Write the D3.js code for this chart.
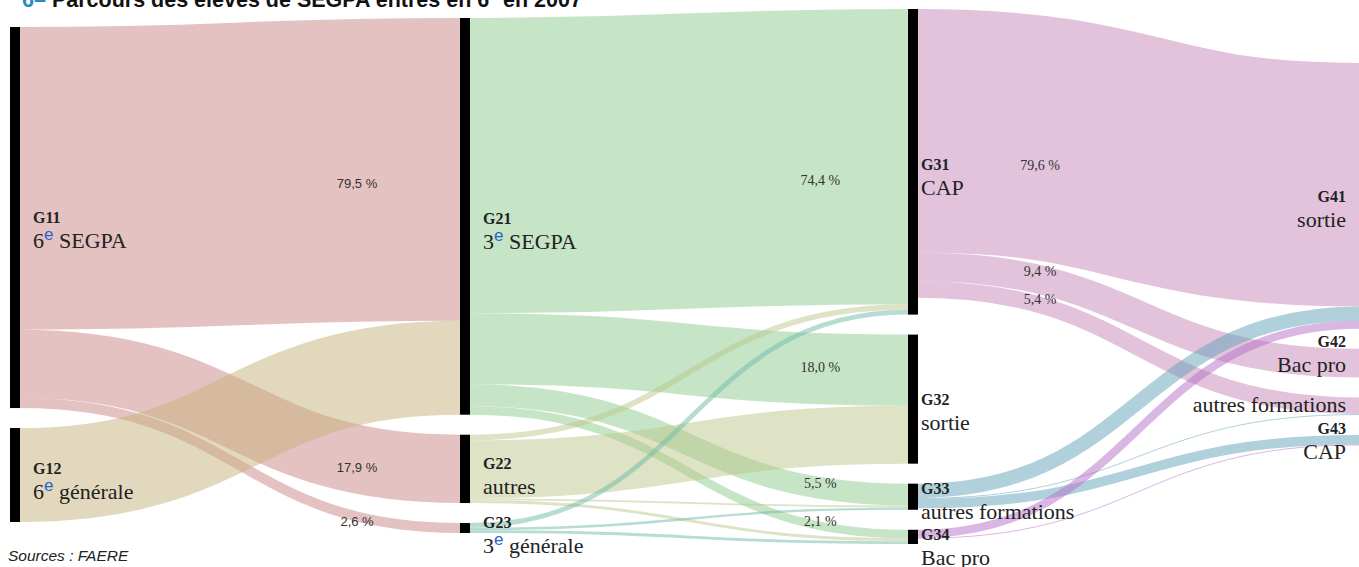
<!DOCTYPE html>
<html>
<head>
<meta charset="utf-8">
<script src="https://cdn.jsdelivr.net/npm/d3@7"></script>
<style>
  body { margin: 0; background: #fff; }
  svg { display: block; }
  .serif { font-family: "Liberation Serif", "Times New Roman", Tinos, "DejaVu Serif", "Noto Serif", serif; }
</style>
</head>
<body>
<div id="parcours"></div>
<script>
// Parcours des élèves de SEGPA - sankey drawn by hand with d3

// nodes
const nodeIds = ["G11", "G12", "G21", "G22", "G23", "G31", "G32", "G33", "G34", "G41", "G42", "G44", "G43"];
const nodeCodes = ["G11", "G12", "G21", "G22", "G23", "G31", "G32", "G33", "G34", "G41", "G42", "", "G43"];
const nodeNames = ["6^e SEGPA", "6^e générale", "3^e SEGPA", "autres", "3^e générale",
                   "CAP", "sortie", "autres formations", "Bac pro",
                   "sortie", "Bac pro", "autres formations", "CAP"];
const nodeColumn = [0, 0, 1, 1, 1, 2, 2, 2, 2, 3, 3, 3, 3];

// links (share of the whole cohort, in %)
const linkSource = ["G11", "G11", "G11", "G12",
                    "G21", "G21", "G21", "G21",
                    "G22", "G22", "G22", "G22",
                    "G23", "G23", "G23",
                    "G31", "G31", "G31",
                    "G33", "G33", "G33",
                    "G34", "G34"];
const linkTarget = ["G21", "G22", "G23", "G21",
                    "G31", "G32", "G33", "G34",
                    "G31", "G32", "G33", "G34",
                    "G31", "G33", "G34",
                    "G41", "G42", "G44",
                    "G41", "G44", "G43",
                    "G41", "G43"];
const linkValue = [63.8, 14.4, 2.1, 19.8,
                   62.2, 15.0, 4.6, 1.8,
                   1.2, 12.2, 0.4, 0.6,
                   1.0, 0.5, 0.6,
                   51.3, 6.05, 3.5,
                   3.0, 0.2, 2.0,
                   1.7, 0.2];
// percentage labels written on some links
const linkLabel = ["79,5 %", "17,9 %", "2,6 %", "",
                   "74,4 %", "18,0 %", "5,5 %", "2,1 %",
                   "", "", "", "",
                   "", "", "",
                   "79,6 %", "9,4 %", "5,4 %",
                   "", "", "",
                   "", ""];

// layout only: label nudges (px)
const labelNudge = [13, 8, 4, 0,
                    23, -2, -5, -5,
                    0, 0, 0, 0,
                    0, 0, 0,
                    27, -9, -6,
                    0, 0, 0,
                    0, 0];
const nodeLabelShift = [0, -7, 2, -5, -6, 3, 0, -8, -2, 1, -22, 0, -12];

const sourceColors = {
  G11: "#c98585", G12: "#c5b17d", G21: "#8dcb8d", G22: "#bbc789",
  G23: "#6eb9aa", G31: "#c787b7", G33: "#61a1b9", G34: "#b66ec6"
};

const width = 1359, height = 567;
const colX = [10, 460, 908, 1359];     // left edge of the node bars
const colTop = [27, 18, 9, 63];
const barW = 10, gap = 20;
const labelT = [0.766, 0.8, 0.277];    // where along a link its % sits
const sans = "'Liberation Sans', Arial, sans-serif";
const narrow = "'Liberation Sans Narrow', 'Arial Narrow', 'Liberation Sans', sans-serif";

const svg = d3.select("#parcours")
  .append("svg")
    .attr("width", width)
    .attr("height", height);

// build nodes and links
let nodes = nodeIds.map((id, i) => ({
  id: id, code: nodeCodes[i], name: nodeNames[i], col: nodeColumn[i],
  shift: nodeLabelShift[i], inLinks: [], outLinks: []
}));
let byId = new Map(nodes.map(n => [n.id, n]));
let links = linkValue.map((v, i) => ({
  source: byId.get(linkSource[i]), target: byId.get(linkTarget[i]),
  value: v, label: linkLabel[i], nudge: labelNudge[i]
}));
links.forEach(l => { l.source.outLinks.push(l); l.target.inLinks.push(l); });
nodes.forEach(n => {
  n.value = Math.max(d3.sum(n.inLinks, l => l.value), d3.sum(n.outLinks, l => l.value));
});

// one px-per-percent scale for every column, from the first column
const firstCol = nodes.filter(n => n.col == 0);
const y = d3.scaleLinear()
  .domain([0, d3.sum(firstCol, n => n.value)])
  .range([0, 522 - colTop[0] - gap * (firstCol.length - 1)]);

// stack the nodes of each column
d3.range(4).forEach(c => {
  let pos = colTop[c];
  nodes.filter(n => n.col == c).forEach(n => {
    n.y0 = pos;
    n.y1 = pos + y(n.value);
    n.x0 = colX[c];
    n.x1 = colX[c] + barW;
    pos = n.y1 + gap;
  });
});

// link band positions at both ends
const order = n => nodeIds.indexOf(n.id);
nodes.forEach(n => {
  let s = n.y0;
  n.outLinks.sort((a, b) => order(a.target) - order(b.target)).forEach(l => {
    l.w = y(l.value); l.sy = s + l.w / 2; s += l.w;
  });
  let t = n.y0;
  n.inLinks.sort((a, b) => order(a.source) - order(b.source)).forEach(l => {
    l.ty = t + y(l.value) / 2; t += y(l.value);
  });
});

const linkPath = d3.linkHorizontal()
  .source(l => [l.source.x1, l.sy])
  .target(l => [l.target.x0, l.ty]);

svg.append("g")
  .attr("fill", "none")
  .selectAll("path")
  .data(links)
  .join("path")
    .attr("d", linkPath)
    .attr("stroke", l => sourceColors[l.source.id])
    .attr("stroke-opacity", 0.5)
    .attr("stroke-width", l => Math.max(1, l.w));

// node bars
svg.append("g")
  .selectAll("rect")
  .data(nodes.filter(n => n.col < 3))
  .join("rect")
    .attr("x", n => n.x0)
    .attr("y", n => n.y0)
    .attr("width", barW)
    .attr("height", n => n.y1 - n.y0)
    .attr("fill", "#000");

// position along a horizontal link bezier for a given x fraction
function bandY(l, t) {
  let x0 = l.source.x1, x1 = l.target.x0;
  let X = x0 + t * (x1 - x0);
  let lo = 0, hi = 1;
  for (let k = 0; k < 40; k++) {
    let s = (lo + hi) / 2;
    let xs = x0 * (1 - s) ** 3 + 3 * (x0 + x1) / 2 * s * (1 - s) + x1 * s ** 3;
    if (xs < X) lo = s; else hi = s;
  }
  let s = lo;
  return [X, l.sy + (l.ty - l.sy) * (3 * s * s - 2 * s * s * s)];
}

// link labels
svg.append("g")
  .selectAll("text")
  .data(links.filter(l => l.label != ""))
  .join("text")
    .each(function(l) {
      let p = bandY(l, labelT[l.source.col]);
      d3.select(this)
        .attr("x", p[0])
        .attr("y", p[1] + l.nudge + 5);
    })
    .attr("class", l => l.source.col == 0 ? null : "serif")
    .attr("text-anchor", "middle")
    .attr("font-size", l => l.source.col == 0 ? 13 : 14)
    .attr("font-family", l => l.source.col == 0 ? sans : null)
    .attr("fill", "#333")
    .text(l => l.label);

// node labels
const nodeLabels = svg.append("g")
  .attr("class", "serif")
  .selectAll("g")
  .data(nodes)
  .join("g")
    .attr("transform", n => {
      let cy = (n.y0 + n.y1) / 2 + n.shift;
      let x = n.col == 3 ? 1346 : n.x1 + (n.col == 2 ? 3 : 13);
      return `translate(${x}, ${cy})`;
    })
    .attr("text-anchor", n => n.col == 3 ? "end" : "start");

nodeLabels.append("text")
  .attr("class", "serif")
  .attr("y", 5.5)
  .attr("font-size", 16)
  .attr("font-weight", "bold")
  .attr("fill", "#222")
  .text(n => n.code);

nodeLabels.append("text")
  .attr("class", "serif")
  .attr("y", n => n.code == "" ? 6 : 30.5)
  .attr("font-size", 22)
  .attr("fill", "#222")
  .each(function(n) {
    let t = d3.select(this);
    let parts = n.name.split("^e");
    if (parts.length == 2) {
      t.append("tspan").text(parts[0]);
      t.append("tspan")
        .attr("dy", -8)
        .attr("font-size", 17)
        .attr("font-family", sans)
        .attr("fill", "#2a63c9")
        .text("e");
      t.append("tspan").attr("dy", 8).text(parts[1]);
    } else {
      t.text(n.name);
    }
  });

// title, cut at the top of the picture
const title = svg.append("text")
  .attr("x", 22)
  .attr("y", 7)
  .attr("font-family", narrow)
  .attr("font-weight", "bold")
  .attr("font-size", 21.5)
  .attr("fill", "#111");
title.append("tspan").attr("fill", "#2a8cc4").text("6– ");
title.append("tspan").text("Parcours des élèves de SEGPA entrés en 6");
title.append("tspan").attr("dy", -7).attr("font-size", 14).text("e");
title.append("tspan").attr("dy", 7).text(" en 2007");

svg.append("text")
  .attr("x", 8)
  .attr("y", 561)
  .attr("font-family", narrow)
  .attr("font-style", "italic")
  .attr("font-size", 15.5)
  .attr("fill", "#222")
  .text("Sources : FAERE");
</script>
</body>
</html>
